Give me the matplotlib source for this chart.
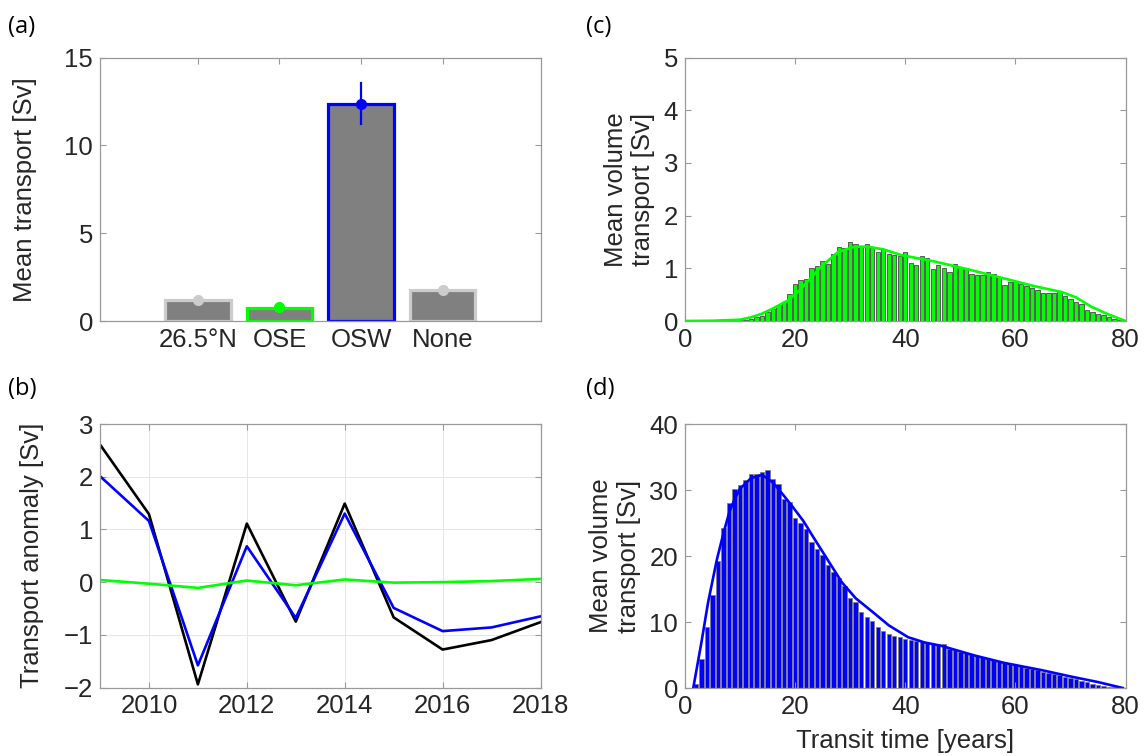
import numpy as np
import matplotlib
matplotlib.use("Agg")
import matplotlib.pyplot as plt

plt.rcParams['font.family'] = ['Liberation Sans', 'DejaVu Sans']
plt.rcParams['font.size'] = 18.5

# panel (a)
cats = ["26.5°N", "OSE", "OSW", "None"]
bar_vals = [1.2, 0.76, 12.37, 1.74]
dot_vals = [1.22, 0.77, 12.37, 1.76]
err_lo = [0, 0, 11.2, 0]
err_hi = [0, 0, 13.55, 0]
edge_cols = ["#cccccc", "#00ff00", "#0000ff", "#cccccc"]
dot_cols = ["#cccccc", "#00ff00", "#0000ff", "#cccccc"]

# panel (b)
years = np.arange(2009, 2019)
black_anom = [2.61, 1.29, -1.94, 1.11, -0.75, 1.49, -0.67, -1.28, -1.10, -0.76]
blue_anom = [2.01, 1.16, -1.58, 0.68, -0.68, 1.30, -0.49, -0.93, -0.86, -0.65]
green_anom = [0.04, -0.03, -0.11, 0.03, -0.06, 0.05, -0.01, 0.0, 0.02, 0.06]

# panel (c) histogram (bins centred on 1..79 years)
t_bins = np.arange(1, 80)
c_hist = [0, 0, 0, 0, 0, 0, 0, 0, 0.005,
          0.01, 0.01, 0.03, 0.08, 0.10, 0.17, 0.23, 0.31, 0.37, 0.52,
          0.71, 0.77, 0.79, 1.00, 1.04, 1.14, 1.09, 1.28, 1.41, 1.39,
          1.50, 1.47, 1.42, 1.47, 1.39, 1.31, 1.36, 1.28, 1.26, 1.23,
          1.31, 1.11, 1.06, 1.24, 1.20, 0.98, 1.06, 1.01, 0.93, 1.09,
          1.03, 1.00, 0.89, 0.87, 0.87, 0.93, 0.89, 0.84, 0.68, 0.74,
          0.76, 0.70, 0.66, 0.63, 0.58, 0.54, 0.54, 0.53, 0.56, 0.48,
          0.41, 0.37, 0.33, 0.20, 0.18, 0.14, 0.11, 0.08, 0.04, 0.01]
c_line_t = [0, 5, 10, 12, 14, 16, 18.7, 21, 24.7, 27.8, 30.8, 33.2, 36,
            39.3, 45.3, 51.4, 57.5, 63.5, 68.4, 71, 73.8, 77, 80]
c_line_v = [0, 0.005, 0.025, 0.07, 0.14, 0.24, 0.39, 0.6, 1.03, 1.31, 1.41,
            1.41, 1.36, 1.25, 1.13, 0.98, 0.82, 0.66, 0.55, 0.45, 0.27, 0.12, 0]

# panel (d) histogram
d_hist = [0, 0.65, 4.4, 9.2, 14.1, 19.2, 24.3, 28.1, 30.1,
          30.7, 31.5, 32.5, 32.5, 32.7, 33.0, 31.6, 30.9, 28.7, 28.2,
          25.8, 25.0, 24.1, 22.1, 21.0, 20.2, 18.7, 17.6, 16.6, 15.4,
          13.7, 13.1, 11.5, 10.7, 10.2, 9.2, 8.7, 8.2, 7.9, 7.7,
          7.4, 7.3, 7.1, 6.9, 6.8, 6.7, 6.6, 6.7, 5.9, 5.7,
          5.4, 5.3, 5.1, 4.8, 4.7, 4.5, 4.3, 4.1, 3.9, 3.7,
          3.5, 3.3, 3.1, 2.9, 2.7, 2.5, 2.3, 2.1, 1.9, 1.7,
          1.5, 1.3, 1.1, 0.85, 0.65, 0.5, 0.35, 0.2, 0.1, 0.05]
d_line_t = [1.5, 3, 4.2, 5.8, 7, 8, 9, 10, 12, 14, 16, 17.8, 19.6, 21.5,
            23.2, 26, 28.5, 31, 34.4, 37, 40.5, 43.5, 46.5, 52.7, 58, 64.8,
            70, 75, 79.5]
d_line_v = [0, 7, 13, 19.5, 23.5, 26.5, 28.6, 30.2, 31.8, 32.3, 31.1, 29.3,
            27.4, 25.3, 23.0, 19.3, 16.0, 13.6, 11.3, 9.5, 7.7, 6.9, 6.4,
            4.9, 3.8, 2.7, 1.75, 0.9, 0]

W, H = 1144, 756
fig = plt.figure(figsize=(W / 100, H / 100), dpi=100)


def box(l, t, r, b):
    return [l / W, 1 - b / H, (r - l) / W, (b - t) / H]


def style(ax):
    for s in ax.spines.values():
        s.set_color("0.6")
        s.set_linewidth(0.9)
    ax.tick_params(direction="in", length=4, width=0.8, color="0.6",
                   labelcolor="0.15", top=True, right=True, labelsize=18.5,
                   pad=5)


axa = fig.add_axes(box(100, 57.5, 540.5, 321))
axb = fig.add_axes(box(100, 424, 540.5, 687.5))
axc = fig.add_axes(box(685, 57.5, 1125.5, 321))
axd = fig.add_axes(box(685, 424, 1125.5, 688))

# (a)
xa = np.arange(1, 5)
for i in range(4):
    axa.bar(xa[i], bar_vals[i], width=0.8, color="#808080",
            edgecolor=edge_cols[i], linewidth=2.3, zorder=2)
    if err_hi[i] > 0:
        axa.plot([xa[i], xa[i]], [err_lo[i], err_hi[i]], color=dot_cols[i],
                 lw=1.6, zorder=3)
    axa.plot(xa[i], dot_vals[i], "o", color=dot_cols[i], ms=7, zorder=4)
axa.set_xlim(-0.2, 5.2)
axa.set_ylim(0, 15)
axa.set_yticks([0, 5, 10, 15])
axa.set_xticks(xa)
axa.set_xticklabels(cats)
axa.set_ylabel("Mean transport [Sv]", color="0.15", labelpad=20)
style(axa)

# (b)
axb.plot(years, black_anom, color="black", lw=1.9)
axb.plot(years, blue_anom, color="#0000ff", lw=1.9)
axb.plot(years, green_anom, color="#00ff00", lw=1.9)
axb.set_xlim(2009, 2018)
axb.set_ylim(-2, 3)
axb.set_xticks([2010, 2012, 2014, 2016, 2018])
axb.set_yticks([-2, -1, 0, 1, 2, 3])
axb.grid(True, color="0.9", lw=0.7)
axb.set_axisbelow(True)
axb.set_ylabel("Transport anomaly [Sv]", color="0.15", labelpad=14)
style(axb)

# (c)
axc.bar(t_bins, c_hist, width=0.8, color="#00ff00", edgecolor="0.35",
        linewidth=0.7)
axc.plot(c_line_t, c_line_v, color="#00ff00", lw=1.9)
axc.set_xlim(0, 80)
axc.set_ylim(0, 5)
axc.set_xticks([0, 20, 40, 60, 80])
axc.set_yticks([0, 1, 2, 3, 4, 5])
axc.set_ylabel("Mean volume\ntransport [Sv]", color="0.15", labelpad=6)
style(axc)

# (d)
axd.bar(t_bins, d_hist, width=0.8, color="#0000ff", edgecolor="0.5",
        linewidth=0.6)
axd.plot(d_line_t, d_line_v, color="#0000ff", lw=1.9)
axd.set_xlim(0, 80)
axd.set_ylim(0, 40)
axd.set_xticks([0, 20, 40, 60, 80])
axd.set_yticks([0, 10, 20, 30, 40])
axd.set_ylabel("Mean volume\ntransport [Sv]", color="0.15", labelpad=6)
axd.set_xlabel("Transit time [years]", color="0.15", labelpad=7)
style(axd)

for lab, x, y in [("(a)", 8, 27), ("(b)", 8, 389), ("(c)", 586, 27), ("(d)", 586, 389)]:
    fig.text(x / W, 1 - y / H, lab, family=["Open Sans", "DejaVu Sans"],
             fontsize=17, va="center", ha="left")

fig.savefig("out.png", dpi=100)
